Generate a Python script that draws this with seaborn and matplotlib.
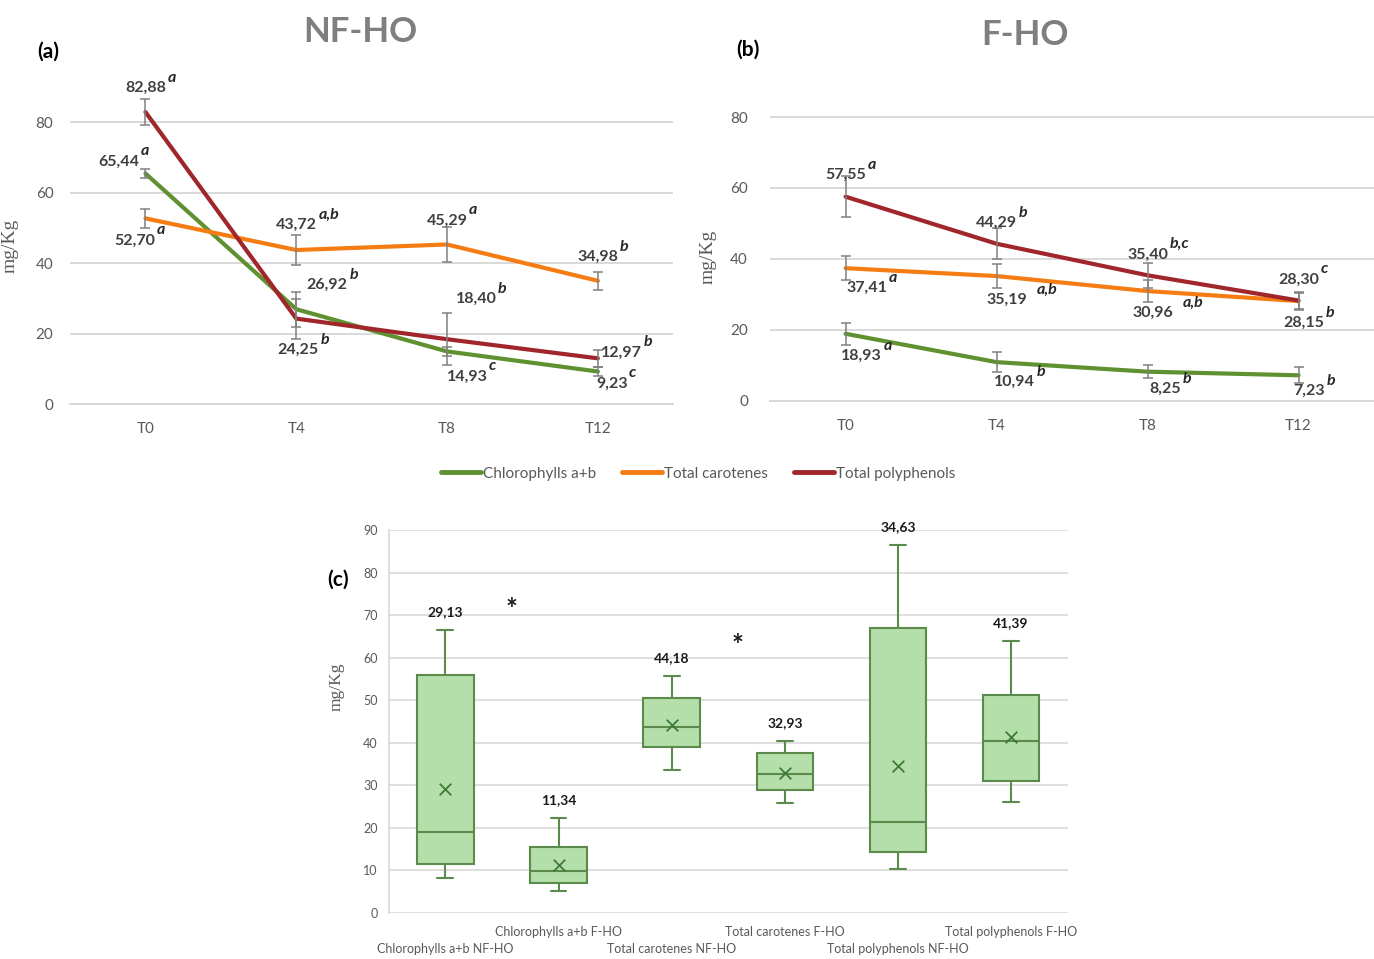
import numpy as np
import pandas as pd
import matplotlib
matplotlib.use("Agg")
import matplotlib.pyplot as plt
import seaborn as sns
from matplotlib.lines import Line2D

# ---------------- data ----------------
times = ["T0", "T4", "T8", "T12"]
series_names = ["Chlorophylls a+b", "Total carotenes", "Total polyphenols"]

# (a) NF-HO
nf_chl = [65.44, 26.92, 14.93, 9.23]
nf_car = [52.70, 43.72, 45.29, 34.98]
nf_pol = [82.88, 24.25, 18.40, 12.97]
nf_chl_err = [1.2, 5.0, 1.2, 1.2]
nf_car_err = [2.6, 4.3, 4.9, 2.5]
nf_pol_err = [3.8, 5.7, 7.3, 2.5]
nf_chl_sig = ["a", "b", "c", "c"]
nf_car_sig = ["a", "a,b", "a", "b"]
nf_pol_sig = ["a", "b", "b", "b"]

# (b) F-HO
f_chl = [18.93, 10.94, 8.25, 7.23]
f_car = [37.41, 35.19, 30.96, 28.15]
f_pol = [57.55, 44.29, 35.40, 28.30]
f_chl_err = [3.1, 2.9, 1.9, 2.2]
f_car_err = [3.4, 3.5, 3.0, 2.4]
f_pol_err = [5.7, 4.4, 3.5, 2.4]
f_chl_sig = ["a", "b", "b", "b"]
f_car_sig = ["a", "a,b", "a,b", "b"]
f_pol_sig = ["a", "b", "b,c", "c"]

# (c) box plot summary statistics
box_labels = ["Chlorophylls a+b NF-HO", "Chlorophylls a+b F-HO",
              "Total carotenes NF-HO", "Total carotenes F-HO",
              "Total polyphenols NF-HO", "Total polyphenols F-HO"]
box_min = [8.3, 5.2, 33.5, 25.8, 10.3, 26.1]
box_q1 = [11.6, 7.0, 38.9, 28.8, 14.3, 30.9]
box_med = [19.1, 9.9, 43.7, 32.7, 21.4, 40.3]
box_q3 = [55.8, 15.4, 50.4, 37.7, 66.9, 51.2]
box_max = [66.5, 22.3, 55.6, 40.3, 86.5, 63.9]
box_mean = [29.13, 11.34, 44.18, 32.93, 34.63, 41.39]
sig_pairs = [(0, 1), (2, 3)]
sig_star_y = [71.3, 62.8]

# ---------------- style ----------------
sns.set_style("white")
plt.rcParams["font.family"] = ["Lato", "DejaVu Sans"]

colors = ["#5f9130", "#f57c12", "#a0262b"]
grid_c = "#d9d9d9"
tick_c = "#595959"
lab_c = "#404040"

# label offsets in pixels (dx, dy) for each series/time point
nf_offsets = [
    [(-27, 12), (31, 24), (20, -25), (14, -12)],
    [(-11, -22), (0, 25), (0, 24), (0, 24)],
    [(0, 24), (2, -31), (29, 40), (24, 6)],
]
f_offsets = [
    [(16, -22), (18, -20), (18, -17), (11, -16)],
    [(21, -20), (10, -24), (5, -22), (5, -22)],
    [(0, 22), (0, 21), (0, 21), (0, 21)],
]
f_sig_gap = [
    [1.04, 1.04, 1.04, 1.04],
    [1.04, 1.25, 1.25, 1.04],
    [1.04, 1.04, 1.04, 1.04],
]

fig = plt.figure(figsize=(13.74, 9.59), dpi=100)
axA = fig.add_axes([0.051, 0.5787, 0.439, 0.3306])
axB = fig.add_axes([0.5605, 0.5819, 0.4395, 0.3331])
axC = fig.add_axes([0.283, 0.048, 0.494, 0.3994])


def fmt(v):
    return f"{v:.2f}".replace(".", ",")


def line_panel(ax, vals, errs, sigs, offsets, gaps):
    x = np.arange(len(times))
    for i, (v, e, s, off, col) in enumerate(zip(vals, errs, sigs, offsets, colors)):
        sns.lineplot(x=x, y=v, ax=ax, color=col, linewidth=3.0, legend=False, zorder=3)
        ax.errorbar(x, v, yerr=e, fmt="none", ecolor="#808080", elinewidth=1.1,
                    capsize=3.5, capthick=1.1, zorder=4)
        for j, (xi, vi, si, (dx, dy)) in enumerate(zip(x, v, s, off)):
            t = ax.annotate(fmt(vi), xy=(xi, vi), xytext=(dx, dy),
                            textcoords="offset pixels", ha="center", va="center",
                            fontsize=11.5, fontweight="bold", color=lab_c, zorder=6)
            g = gaps[i][j] if gaps is not None else 1.04
            ax.annotate(si, xy=(g, 0.72), xycoords=t, ha="left", va="bottom",
                        fontsize=11.5, fontweight="bold", style="italic",
                        color="#262626", zorder=6)
    ax.set_xlim(-0.5, 3.5)
    ax.set_ylim(0, 90)
    ax.set_yticks([0, 20, 40, 60, 80])
    ax.set_xticks(x)
    ax.set_xticklabels(times)
    ax.grid(axis="y", color=grid_c, linewidth=1.4)
    ax.grid(axis="x", visible=False)
    ax.set_axisbelow(True)
    for sp in ["top", "right", "left"]:
        ax.spines[sp].set_visible(False)
    ax.spines["bottom"].set_color(grid_c)
    ax.spines["bottom"].set_linewidth(1.4)
    ax.tick_params(axis="both", length=0, labelsize=11, labelcolor=tick_c)
    ax.tick_params(axis="x", pad=13)
    ax.tick_params(axis="y", pad=12)
    ax.set_ylabel("mg/Kg", fontsize=14, color=tick_c, family=["Liberation Serif"])


line_panel(axA, [nf_chl, nf_car, nf_pol], [nf_chl_err, nf_car_err, nf_pol_err],
           [nf_chl_sig, nf_car_sig, nf_pol_sig], nf_offsets, None)
axA.yaxis.set_label_coords(-0.086, 0.5)

line_panel(axB, [f_chl, f_car, f_pol], [f_chl_err, f_car_err, f_pol_err],
           [f_chl_sig, f_car_sig, f_pol_sig], f_offsets, f_sig_gap)
axB.yaxis.set_label_coords(-0.089, 0.45)
axB.tick_params(axis="y", pad=16)

fig.text(360 / 1374, 1 - 32 / 959, "NF-HO", ha="center", va="center",
         fontsize=25, fontweight="bold", color="#7f7f7f")
fig.text(1025 / 1374, 1 - 35 / 959, "F-HO", ha="center", va="center",
         fontsize=25, fontweight="bold", color="#7f7f7f")
fig.text(48 / 1374, 1 - 52 / 959, "(a)", ha="center", va="center",
         fontsize=15, fontweight="bold", color="black")
fig.text(748 / 1374, 1 - 50 / 959, "(b)", ha="center", va="center",
         fontsize=15, fontweight="bold", color="black")
fig.text(338 / 1374, 1 - 580 / 959, "(c)", ha="center", va="center",
         fontsize=15, fontweight="bold", color="black")

handles = [Line2D([], [], color=c, linewidth=3.5) for c in colors]
fig.legend(handles, series_names, loc="center", bbox_to_anchor=(0.508, 0.506),
           ncol=3, frameon=False, handlelength=2.6, handletextpad=0.15,
           columnspacing=1.7, fontsize=11, labelcolor=tick_c)

# ---------------- (c) box plot ----------------
stats_cols = np.column_stack([box_min, box_q1, box_med, box_q3, box_max])
df = pd.DataFrame({"group": np.repeat(box_labels, stats_cols.shape[1]),
                   "value": stats_cols.ravel()})
sns.boxplot(data=df, x="group", y="value", order=box_labels, whis=np.inf,
            width=0.5, color="#b5dfaa", linecolor="#5a8a4c", linewidth=1.5,
            saturation=1, ax=axC, zorder=3, capwidths=0.14)
xpos = np.arange(len(box_labels))
sns.scatterplot(x=xpos, y=box_mean, marker="x", s=70, color="#3f7a36",
                linewidth=1.3, ax=axC, zorder=5, legend=False)
for xi, top, m in zip(xpos, box_max, box_mean):
    axC.annotate(fmt(m), xy=(xi, top), xytext=(0, 18), textcoords="offset pixels",
                 ha="center", va="center", fontsize=10, fontweight="bold",
                 color="#1a1a1a")
for (a, b), ys in zip(sig_pairs, sig_star_y):
    axC.text((a + b) / 2 + 0.08, ys, "*", ha="center", va="center", fontsize=20,
             fontweight="bold", color="#1a1a1a")

axC.set_xlim(-0.5, len(box_labels) - 0.5)
axC.set_ylim(0, 90)
axC.set_yticks(np.arange(0, 91, 10))
# two rows of category labels: F-HO on the first row, NF-HO on the second
axC.set_xticks(xpos[1::2])
axC.set_xticklabels(box_labels[1::2])
axC.set_xticks(xpos[0::2], minor=True)
axC.set_xticklabels(box_labels[0::2], minor=True)
axC.set_xlabel("")
axC.set_ylabel("mg/Kg", fontsize=12.5, color=tick_c, family=["Liberation Serif"])
axC.yaxis.set_label_coords(-0.065, 0.59)
axC.grid(axis="y", color=grid_c, linewidth=1.2)
axC.grid(axis="x", visible=False, which="both")
axC.set_axisbelow(True)
for sp in ["top", "right", "bottom"]:
    axC.spines[sp].set_visible(False)
axC.spines["left"].set_color(grid_c)
axC.spines["left"].set_linewidth(1.2)
axC.tick_params(axis="both", which="both", length=0, labelsize=9, labelcolor=tick_c)
axC.tick_params(axis="x", which="major", pad=9.5)
axC.tick_params(axis="x", which="minor", pad=21.5)
axC.tick_params(axis="y", pad=8)

fig.savefig("out.png", dpi=100)
